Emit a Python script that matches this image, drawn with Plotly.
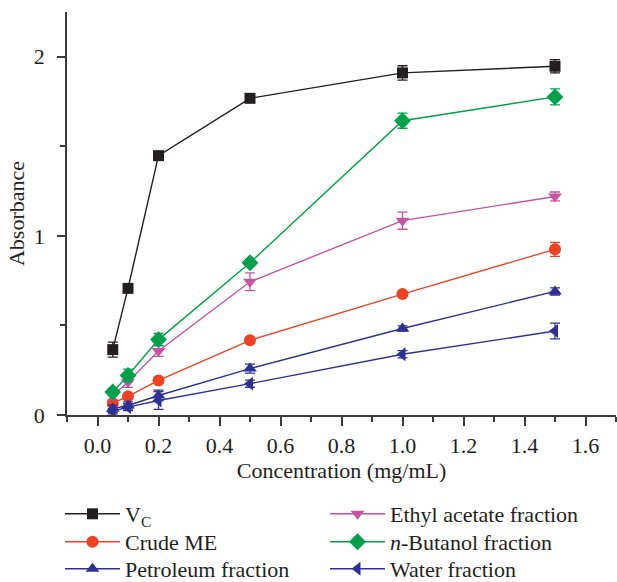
import plotly.graph_objects as go

# Concentrations (mg/mL)
conc = [0.05, 0.1, 0.2, 0.5, 1.0, 1.5]

# Mean absorbance and standard deviation for each sample
vc = [0.365, 0.707, 1.448, 1.768, 1.910, 1.947]
vc_err = [0.042, 0.015, 0.015, 0.02, 0.04, 0.037]

crude_me = [0.066, 0.104, 0.193, 0.417, 0.675, 0.925]
crude_me_err = [0.015, 0.012, 0.012, 0.012, 0.012, 0.039]

petroleum = [0.035, 0.053, 0.109, 0.259, 0.483, 0.690]
petroleum_err = [0.02, 0.02, 0.03, 0.025, 0.015, 0.02]

ethyl_acetate = [0.109, 0.184, 0.357, 0.744, 1.085, 1.220]
ethyl_acetate_err = [0.02, 0.03, 0.03, 0.05, 0.048, 0.025]

n_butanol = [0.128, 0.221, 0.421, 0.850, 1.643, 1.776]
n_butanol_err = [0.02, 0.035, 0.034, 0.02, 0.042, 0.045]

water = [0.021, 0.044, 0.081, 0.175, 0.339, 0.469]
water_err = [0.015, 0.02, 0.05, 0.02, 0.02, 0.044]

FONT = "Liberation Serif"
FS = 22
AXIS_COLOR = "#3a3a3a"

# Plot area in pixels (used to place the legend entries below the axes)
ML, MR, MT, MB = 67, 1, 12, 167
W, H = 617, 582
PLOT_H = H - MT - MB
PLOT_W = W - ML - MR

series = [
    # name, values, errors, color, symbol, size, legend column, legend row
    ("V<sub>C</sub>", vc, vc_err, "#231f20", "square", 11, 0, 0),
    ("Crude ME", crude_me, crude_me_err, "#ef4123", "circle", 12, 0, 1),
    ("Petroleum fraction", petroleum, petroleum_err, "#2e3192", "triangle-up", 12, 0, 2),
    ("Ethyl acetate fraction", ethyl_acetate, ethyl_acetate_err, "#c455a0", "triangle-down", 12, 1, 0),
    ("<i>n</i>-Butanol fraction", n_butanol, n_butanol_err, "#00a14b", "diamond", 13, 1, 1),
    ("Water fraction", water, water_err, "#2e3192", "triangle-left", 12, 1, 2),
]

# Legend layout: two columns of three rows under the x-axis title
col_left_px = [60, 325]
row_center_px = [514, 542, 569]

fig = go.Figure()
legends = {}
for i, (name, vals, errs, color, symbol, size, col, row) in enumerate(series):
    leg_id = "legend" if i == 0 else f"legend{i + 1}"
    fig.add_trace(go.Scatter(
        x=conc, y=vals, name=name, mode="lines+markers",
        line=dict(color=color, width=1.4),
        marker=dict(symbol=symbol, size=size, color=color,
                    line=dict(color=color, width=0)),
        error_y=dict(type="data", array=errs, visible=True,
                     color=color, thickness=1.3, width=5),
        legend=leg_id,
    ))
    legends[leg_id] = dict(
        font=dict(family=FONT, size=FS, color="#231f20"),
        bgcolor="rgba(0,0,0,0)", orientation="v",
        xanchor="left", yanchor="middle",
        x=(col_left_px[col] - ML) / PLOT_W,
        y=(H - MB - row_center_px[row]) / PLOT_H,
        itemwidth=55,
    )

fig.update_layout(
    width=W, height=H,
    margin=dict(l=ML, r=MR, t=MT, b=MB, autoexpand=False),
    paper_bgcolor="white", plot_bgcolor="white",
    font=dict(family=FONT, size=FS, color="#231f20"),
    showlegend=True,
    **legends,
    xaxis=dict(
        range=[-0.1, 1.7], tick0=0, dtick=0.2, tickformat=".1f",
        showgrid=False, zeroline=False,
        showline=True, linecolor=AXIS_COLOR, linewidth=1.5,
        ticks="outside", ticklen=9, tickwidth=1.5, tickcolor=AXIS_COLOR,
        ticklabelstandoff=1,
        minor=dict(dtick=0.1, tick0=0, ticks="outside", ticklen=5,
                   tickwidth=1.5, tickcolor=AXIS_COLOR),
        tickfont=dict(family=FONT, size=FS),
        title=dict(text="Concentration (mg/mL)", standoff=4,
                   font=dict(family=FONT, size=FS)),
    ),
    yaxis=dict(
        range=[0, 2.25], tick0=0, dtick=1,
        showgrid=False, zeroline=False,
        showline=True, linecolor=AXIS_COLOR, linewidth=1.5,
        ticks="outside", ticklen=8, tickwidth=1.5, tickcolor=AXIS_COLOR,
        ticklabelstandoff=8,
        minor=dict(dtick=0.5, tick0=0, ticks="outside", ticklen=5,
                   tickwidth=1.5, tickcolor=AXIS_COLOR),
        tickfont=dict(family=FONT, size=FS),
        title=dict(text="Absorbance", standoff=3,
                   font=dict(family=FONT, size=FS)),
    ),
)

fig.write_html("out.html")
